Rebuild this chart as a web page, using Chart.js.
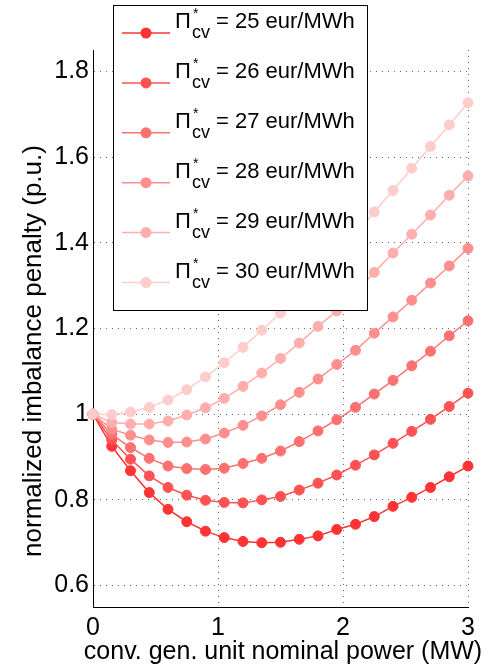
<!DOCTYPE html>
<html>
<head>
<meta charset="utf-8">
<title>Normalized imbalance penalty</title>
<script src="https://cdn.jsdelivr.net/npm/chart.js@4/dist/chart.umd.min.js"></script>
<style>
  html, body { margin: 0; padding: 0; background: #fff; }
  #wrap { position: relative; width: 494px; height: 672px; }
</style>
</head>
<body>
<div id="wrap"><canvas id="penaltyChart" width="494" height="672"></canvas></div>
<script>
// x: conv. gen. unit nominal power (MW)
const powerMW = [0, 0.15, 0.3, 0.45, 0.6, 0.75, 0.9, 1.05, 1.2, 1.35, 1.5,
                 1.65, 1.8, 1.95, 2.1, 2.25, 2.4, 2.55, 2.7, 2.85, 3];

// normalized imbalance penalty (p.u.), one list per conventional price
const pen25 = [1.0, 0.925, 0.868, 0.817, 0.778, 0.749, 0.727, 0.712, 0.703, 0.700, 0.701,
               0.708, 0.716, 0.731, 0.743, 0.761, 0.785, 0.806, 0.829, 0.854, 0.879];
const pen26 = [1.0, 0.940, 0.895, 0.856, 0.829, 0.811, 0.799, 0.794, 0.793, 0.800, 0.808,
               0.823, 0.839, 0.858, 0.881, 0.905, 0.932, 0.960, 0.988, 1.018, 1.049];
const pen27 = [1.0, 0.953, 0.922, 0.897, 0.879, 0.873, 0.871, 0.874, 0.885, 0.897, 0.914,
               0.936, 0.961, 0.987, 1.016, 1.047, 1.079, 1.113, 1.147, 1.183, 1.218];
const pen28 = [1.0, 0.965, 0.951, 0.940, 0.934, 0.935, 0.942, 0.956, 0.974, 0.996, 1.022,
               1.051, 1.082, 1.116, 1.149, 1.189, 1.227, 1.266, 1.306, 1.346, 1.387];
const pen29 = [1.0, 0.981, 0.977, 0.977, 0.984, 0.998, 1.015, 1.037, 1.065, 1.096, 1.130,
               1.166, 1.205, 1.241, 1.285, 1.331, 1.376, 1.420, 1.465, 1.511, 1.556];
const pen30 = [1.0, 0.999, 1.005, 1.016, 1.033, 1.057, 1.087, 1.120, 1.156, 1.196, 1.236,
               1.279, 1.323, 1.370, 1.420, 1.472, 1.522, 1.574, 1.625, 1.675, 1.727];

const priceLabels = ['25', '26', '27', '28', '29', '30'];
const seriesColors = ['rgb(255,51,51)', 'rgb(255,82,82)', 'rgb(255,112,112)',
                      'rgb(255,143,143)', 'rgb(255,173,173)', 'rgb(255,204,204)'];
const xTicks = [0, 1, 2, 3];
const yTicks = [0.6, 0.8, 1, 1.2, 1.4, 1.6, 1.8];
const yTitle = 'normalized imbalance penalty (p.u.)';
const xTitle = 'conv. gen. unit nominal power (MW)';

const allSeries = [pen25, pen26, pen27, pen28, pen29, pen30];
const FONT = "'Liberation Sans', Arial, Helvetica, sans-serif";

Chart.defaults.font.family = FONT;
Chart.defaults.color = '#000';

const datasets = allSeries.map((vals, i) => ({
  label: 'Π*cv = ' + priceLabels[i] + ' eur/MWh',
  data: vals.map((v, k) => ({ x: powerMW[k], y: v })),
  borderColor: seriesColors[i],
  backgroundColor: seriesColors[i],
  pointBackgroundColor: seriesColors[i],
  pointBorderColor: seriesColors[i],
  borderWidth: 1.5,
  pointRadius: 5,
  pointBorderWidth: 1,
  tension: 0,
  clip: false,
  order: allSeries.length - i   // lightest curve drawn on top
}));

// boxed legend with Π*_cv labels, plus both axis titles (drawn unsqueezed)
const piLegend = {
  id: 'piLegend',
  afterDatasetsDraw(chart) {
    const ctx = chart.ctx;
    const bx = 113, by = 5, bw = 254, bh = 305;
    ctx.save();
    ctx.fillStyle = '#fff';
    ctx.fillRect(bx, by, bw, bh);
    ctx.strokeStyle = '#000';
    ctx.lineWidth = 1;
    ctx.strokeRect(bx + 0.5, by + 0.5, bw, bh);

    priceLabels.forEach((p, i) => {
      const rowY = 33 + 49.9 * i;
      ctx.strokeStyle = seriesColors[i];
      ctx.fillStyle = seriesColors[i];
      ctx.lineWidth = 1.5;
      ctx.beginPath();
      ctx.moveTo(122, rowY);
      ctx.lineTo(170, rowY);
      ctx.stroke();
      ctx.beginPath();
      ctx.arc(146, rowY, 5.5, 0, Math.PI * 2);
      ctx.fill();

      ctx.fillStyle = '#000';
      ctx.textAlign = 'left';
      ctx.textBaseline = 'alphabetic';
      ctx.font = '22px ' + FONT;
      ctx.fillText('Π', 175, rowY - 5);
      ctx.font = '14px ' + FONT;
      ctx.fillText('*', 193, rowY - 15);
      ctx.font = '18px ' + FONT;
      ctx.fillText('cv', 192, rowY + 5);
      ctx.font = '22px ' + FONT;
      ctx.fillText('= ' + p + ' eur/MWh', 216, rowY - 5);
    });

    ctx.font = '25px ' + FONT;
    ctx.textAlign = 'center';
    ctx.textBaseline = 'middle';
    ctx.fillText(xTitle, 283, 652);

    ctx.translate(34, 351);
    ctx.rotate(-Math.PI / 2);
    ctx.font = '26px ' + FONT;
    ctx.fillText(yTitle, 0, 0);
    ctx.restore();
  }
};

new Chart(document.getElementById('penaltyChart'), {
  type: 'line',
  data: { datasets },
  options: {
    responsive: false,
    animation: false,
    layout: { padding: { top: 50, right: 26, left: 0, bottom: 0 } },
    plugins: {
      legend: { display: false },
      tooltip: { enabled: false }
    },
    scales: {
      x: {
        type: 'linear',
        min: 0,
        max: 3,
        afterBuildTicks: s => { s.ticks = xTicks.map(v => ({ value: v })); },
        afterFit: s => { s.height = 65; },
        ticks: { font: { size: 25 }, color: '#000', padding: 6, maxRotation: 0 },
        grid: { color: '#666', lineWidth: 1, drawTicks: false },
        border: { display: true, color: '#000', width: 1, dash: [1, 5] }
      },
      y: {
        type: 'linear',
        min: 0.55,
        max: 1.85,
        afterBuildTicks: s => { s.ticks = yTicks.map(v => ({ value: v })); },
        afterFit: s => { s.width = 93; },
        ticks: {
          font: { size: 25 },
          color: '#000',
          padding: 4,
          callback: v => String(+v.toFixed(1))
        },
        grid: { color: '#666', lineWidth: 1, drawTicks: false },
        border: { display: true, color: '#000', width: 1, dash: [1, 5] }
      }
    }
  },
  plugins: [piLegend]
});
</script>
</body>
</html>
